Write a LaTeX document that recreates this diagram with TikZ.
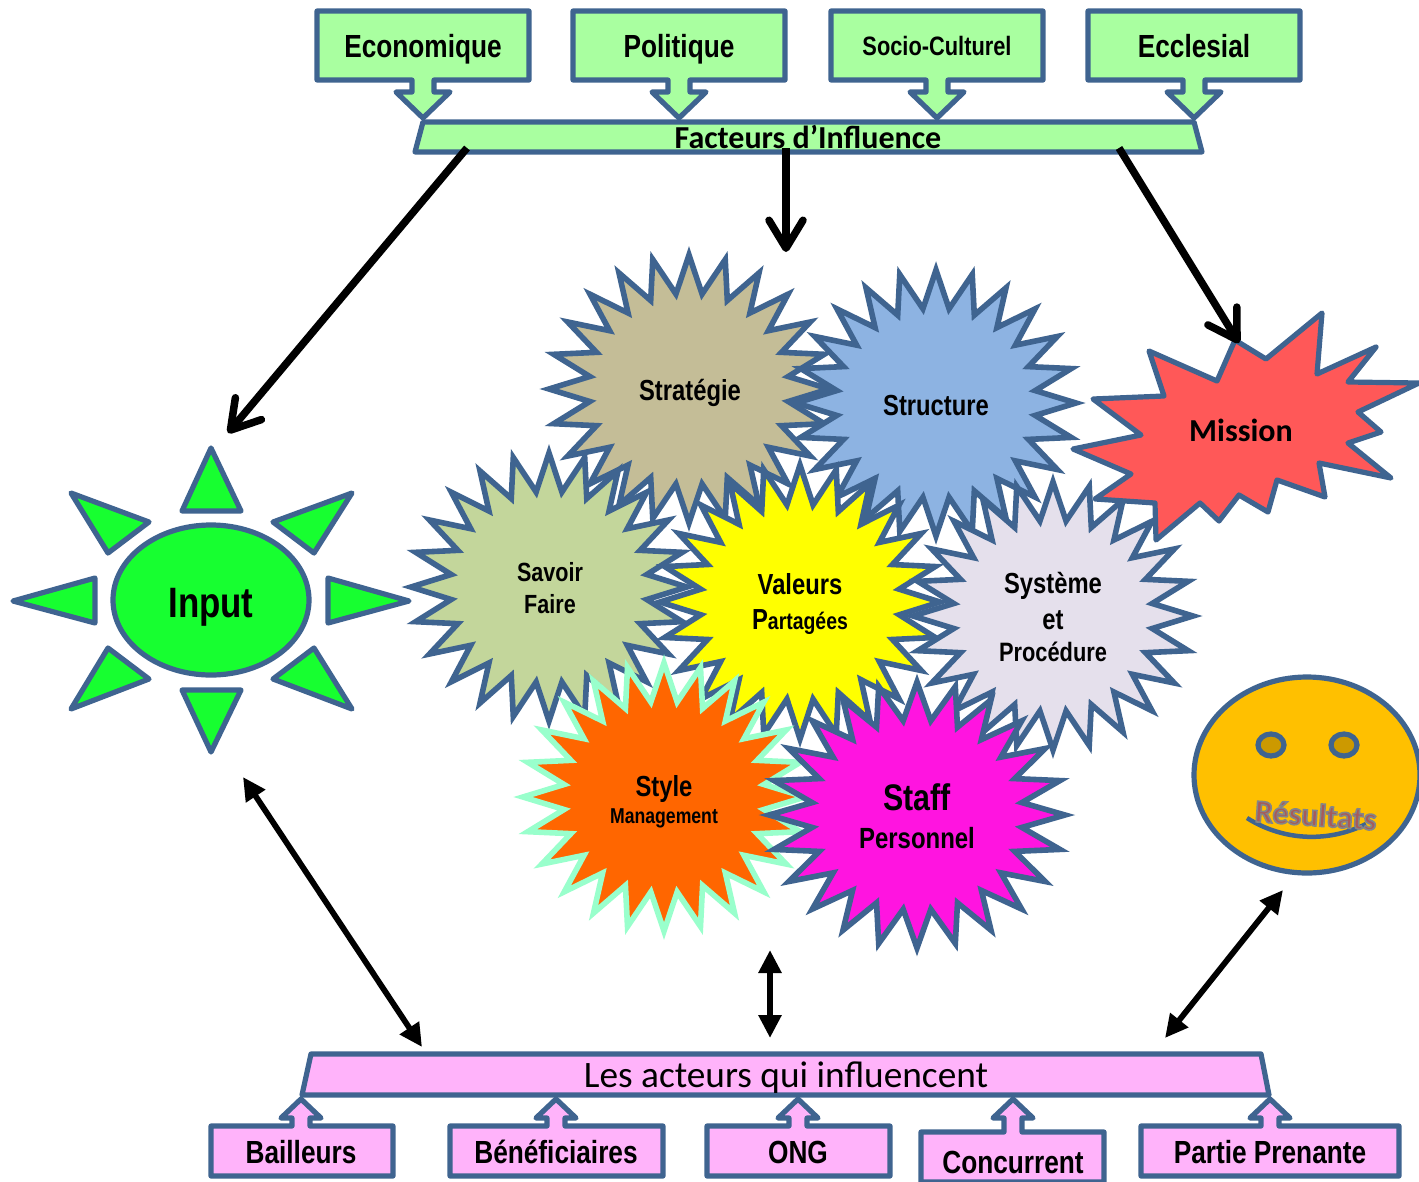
\documentclass[tikz,border=0pt]{standalone}
\usepackage{fontspec}
\setmainfont{Liberation Sans}
\newfontfamily\narrow[FakeStretch=0.82]{Liberation Sans}
\newfontfamily\carl{Carlito}
\usetikzlibrary{arrows.meta}
\definecolor{edgeblue}{HTML}{3F6490}
\definecolor{boxgreen}{HTML}{A9FFA0}
\definecolor{boxpink}{HTML}{FFB3FA}
\definecolor{sungreen}{HTML}{17FF30}
\definecolor{minty}{HTML}{99FFCC}
\definecolor{missionred}{HTML}{FF5858}
\definecolor{tan}{HTML}{C4BD97}
\definecolor{skyb}{HTML}{8DB3E2}
\definecolor{sage}{HTML}{C3D69B}
\definecolor{lilac}{HTML}{E5E0EC}
\definecolor{orangeb}{HTML}{FF6600}
\definecolor{magb}{HTML}{FF14E0}
\definecolor{pureyellow}{HTML}{FFFF00}
\definecolor{smile}{HTML}{FFC000}
\definecolor{eye}{HTML}{CC9900}
\definecolor{resred}{HTML}{A85A5A}
\newcommand{\nf}[1]{\fontsize{#1}{#1}\selectfont\narrow\bfseries}
% cx, cy, rx, ry, fill, draw
\newcommand{\starburst}[6]{%
  \draw[starline,draw=#6,fill=#5] plot[samples at={0,...,47},variable=\k]
    ({#1+(#3)*(1-0.285*mod(\k,2))*cos(90+7.5*\k)},{#2-(#4)*(1-0.285*mod(\k,2))*sin(90+7.5*\k)}) -- cycle;}
\tikzset{
  shapeline/.style={draw=edgeblue,line width=5.2pt,line join=round},
  starline/.style={line width=5.6pt,line join=miter,miter limit=20},
  lbl/.style={anchor=base,inner sep=0pt,text=black},
  barb/.style={line width=7.5pt,-{Straight Barb[length=28pt,width=34pt,round]}},
  twoway/.style={line width=5.8pt,{Triangle[length=23pt,width=22pt]}-{Triangle[length=23pt,width=22pt]}},
}
\begin{document}
\begin{tikzpicture}[x=1pt,y=-1pt]
\useasboundingbox[fill=white] (0,0) rectangle (1419,1181);

% top boxes
\foreach \a/\c in {317/423,573/679,831/937,1088/1194}{
  \draw[shapeline,fill=boxgreen] (\a,11) -- ++(212,0) -- ++(0,69) -- (\c+11,80) -- (\c+11,92) -- (\c+27,92) -- (\c,118) -- (\c-27,92) -- (\c-11,92) -- (\c-11,80) -- (\a,80) -- cycle;
}
\node[lbl] (eco) at (423,57) {\nf{32}Economique};
\node[lbl] (pol) at (679,57) {\nf{32}Politique};
\node[lbl] (soc) at (937,55) {\nf{26.6}Socio-Culturel};
\node[lbl] (ecc) at (1194,57) {\nf{32}Ecclesial};
\draw[shapeline,fill=boxgreen] (423,122) -- (1194,122) -- (1202,152) -- (415,152) -- cycle;
\node[lbl] (fact) at (808,148) {\carl\fontsize{32}{32}\selectfont\bfseries Facteurs d’Influence};

% sun
\draw[shapeline,fill=sungreen] (211,448) -- (182,511) -- (241,511) -- cycle;
\draw[shapeline,fill=sungreen] (211,752) -- (182,690) -- (241,690) -- cycle;
\draw[shapeline,fill=sungreen] (13,601) -- (95,578) -- (95,623) -- cycle;
\draw[shapeline,fill=sungreen] (409,601) -- (328,578) -- (328,623) -- cycle;
\draw[shapeline,fill=sungreen] (71,493) -- (149,522) -- (108,553) -- cycle;
\draw[shapeline,fill=sungreen] (352,493) -- (273,522) -- (314,553) -- cycle;
\draw[shapeline,fill=sungreen] (71,709) -- (149,679) -- (108,648) -- cycle;
\draw[shapeline,fill=sungreen] (352,709) -- (273,679) -- (314,648) -- cycle;
\draw[shapeline,fill=sungreen] (211,600) ellipse [x radius=98,y radius=75];
\node[lbl] (input) at (211,617) {\nf{42.5}Input};

% stars, lowest first
\starburst{689}{389}{140}{134}{tan}{edgeblue}
\starburst{936}{403}{140}{133}{skyb}{edgeblue}
\starburst{549}{587}{138}{134}{sage}{edgeblue}
\starburst{800}{602}{140}{137}{pureyellow}{edgeblue}
\starburst{1053}{616}{140}{134}{lilac}{edgeblue}
\starburst{664}{797}{141}{134}{orangeb}{minty}
\starburst{917}{815}{148}{133}{magb}{edgeblue}

% mission
\draw[shapeline,fill=missionred] (1235,340) -- (1266,359) -- (1322,313) -- (1317,374) -- (1376,347) -- (1348,382) -- (1419,383) -- (1358,412) -- (1381,432) -- (1348,443) -- (1391,478) -- (1319,463) -- (1325,497) -- (1277,480) -- (1268,512) -- (1239,495) -- (1219,521) -- (1200,503) -- (1156,540) -- (1155,503) -- (1095,499) -- (1131,474) -- (1073,449) -- (1141,435) -- (1093,399) -- (1164,396) -- (1149,351) -- (1217,381) -- cycle;
\node[lbl] (mission) at (1241,441) {\carl\fontsize{32}{32}\selectfont\bfseries Mission};

\node[lbl] (strat) at (690,400) {\nf{29}Stratégie};
\node[lbl] (struc) at (936,415) {\nf{29}Structure};
\node[lbl] (sav) at (550,581) {\nf{26.3}Savoir};
\node[lbl] (fai) at (550,613) {\nf{26.3}Faire};
\node[lbl] (val) at (800,594) {\nf{29}Valeurs};
\node[lbl] (par) at (800,629) {\nf{29}P{\fontsize{23.7}{23.7}\selectfont artagées}};
\node[lbl] (sys) at (1053,593) {\nf{29}Système};
\node[lbl] (et) at (1053,629) {\nf{29}et};
\node[lbl] (pro) at (1053,661) {\nf{26.6}Procédure};
\node[lbl] (sty) at (664,796) {\nf{29}Style};
\node[lbl] (man) at (664,823) {\nf{21.5}Management};
\node[lbl] (sta) at (917,810) {\nf{37}Staff};
\node[lbl] (per) at (917,848) {\nf{29.2}Personnel};

% smiley
\draw[shapeline,fill=smile] (1307,775) ellipse [x radius=113,y radius=98];
\draw[shapeline,fill=eye] (1271,745) ellipse [x radius=13,y radius=11];
\draw[shapeline,fill=eye] (1344,745) ellipse [x radius=13,y radius=11];
\draw[draw=edgeblue,line width=4.5pt] (1247,818) .. controls (1285,842) and (1330,842) .. (1366,824);
\node[lbl,rotate=-4,text=resred] (res) at (1315,826) {\special{pdf:code 2 Tr 1.6 w 0.52 0.52 0.52 RG}\carl\fontsize{32}{32}\selectfont\bfseries Résultats\special{pdf:code 0 Tr}};

% bottom band
\draw[shapeline,fill=boxpink] (311,1054) -- (1261,1054) -- (1269,1095) -- (302,1095) -- cycle;
\node[lbl] (act) at (786,1087) {\carl\fontsize{37.3}{37.3}\selectfont Les acteurs qui influencent};
\foreach \a/\b/\c/\t in {211/393/301/1126,450/663/556/1126,707/890/798/1126,921/1104/1013/1132,1141/1399/1270/1126}{
  \draw[shapeline,fill=boxpink] (\a,\t) -- (\c-9,\t) -- (\c-9,1118) -- (\c-20,1118) -- (\c,1099) -- (\c+20,1118) -- (\c+9,1118) -- (\c+9,\t) -- (\b,\t) -- (\b,\t+50) -- (\a,\t+50) -- cycle;
}
\node[lbl] (bai) at (301,1163) {\nf{32}Bailleurs};
\node[lbl] (ben) at (556,1163) {\nf{32}Bénéficiaires};
\node[lbl] (ong) at (798,1163) {\nf{32}ONG};
\node[lbl] (con) at (1013,1173) {\nf{32}Concurrent};
\node[lbl] (pp) at (1270,1163) {\nf{32}Partie Prenante};

% connectors
\coordinate (fa) at (467,148); \coordinate (inputtop) at (228,433);
\coordinate (fb) at (786,148); \coordinate (centretop) at (786,252);
\coordinate (fc) at (1119,148); \coordinate (missiontop) at (1239,343);
\draw[barb] (fa) -- (inputtop);
\draw[barb] (fb) -- (centretop);
\draw[barb] (fc) -- (missiontop);
\coordinate (inputbot) at (243,777); \coordinate (la) at (422,1047);
\coordinate (centrebot) at (770,950); \coordinate (lb) at (770,1038);
\coordinate (smilebot) at (1283,890); \coordinate (lc) at (1165,1038);
\draw[twoway] (inputbot) -- (la);
\draw[twoway] (centrebot) -- (lb);
\draw[twoway] (smilebot) -- (lc);
\end{tikzpicture}
\end{document}
